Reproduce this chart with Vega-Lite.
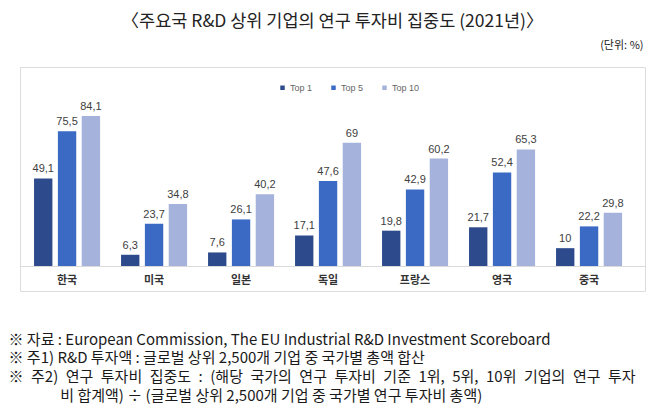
{
  "$schema": "https://vega.github.io/schema/vega-lite/v6.json",
  "width": 625,
  "height": 224,
  "autosize": {"type": "none"},
  "padding": {"left": 20, "top": 67, "right": 13, "bottom": 124},
  "background": "white",
  "title": {
    "text": "〈주요국 R&D 상위 기업의 연구 투자비 집중도 (2021년)〉",
    "anchor": "middle",
    "frame": "group",
    "font": "Noto Sans CJK KR",
    "fontSize": 17.5,
    "fontWeight": "normal",
    "color": "#222222",
    "offset": 9
  },
  "data": {
    "values": [
      {"country": "한국", "series": "Top 1", "value": 49.1, "label": "49,1"},
      {"country": "한국", "series": "Top 5", "value": 75.5, "label": "75,5"},
      {"country": "한국", "series": "Top 10", "value": 84.1, "label": "84,1"},
      {"country": "미국", "series": "Top 1", "value": 6.3, "label": "6,3"},
      {"country": "미국", "series": "Top 5", "value": 23.7, "label": "23,7"},
      {"country": "미국", "series": "Top 10", "value": 34.8, "label": "34,8"},
      {"country": "일본", "series": "Top 1", "value": 7.6, "label": "7,6"},
      {"country": "일본", "series": "Top 5", "value": 26.1, "label": "26,1"},
      {"country": "일본", "series": "Top 10", "value": 40.2, "label": "40,2"},
      {"country": "독일", "series": "Top 1", "value": 17.1, "label": "17,1"},
      {"country": "독일", "series": "Top 5", "value": 47.6, "label": "47,6"},
      {"country": "독일", "series": "Top 10", "value": 69, "label": "69"},
      {"country": "프랑스", "series": "Top 1", "value": 19.8, "label": "19,8"},
      {"country": "프랑스", "series": "Top 5", "value": 42.9, "label": "42,9"},
      {"country": "프랑스", "series": "Top 10", "value": 60.2, "label": "60,2"},
      {"country": "영국", "series": "Top 1", "value": 21.7, "label": "21,7"},
      {"country": "영국", "series": "Top 5", "value": 52.4, "label": "52,4"},
      {"country": "영국", "series": "Top 10", "value": 65.3, "label": "65,3"},
      {"country": "중국", "series": "Top 1", "value": 10, "label": "10"},
      {"country": "중국", "series": "Top 5", "value": 22.2, "label": "22,2"},
      {"country": "중국", "series": "Top 10", "value": 29.8, "label": "29,8"}
    ]
  },
  "encoding": {
    "x": {
      "field": "country",
      "type": "nominal",
      "sort": ["한국", "미국", "일본", "독일", "프랑스", "영국", "중국"],
      "scale": {"paddingInner": 0.241, "paddingOuter": 0.2125, "align": 0.38},
      "axis": {
        "orient": "bottom",
        "offset": -25,
        "domainColor": "#d9d9d9",
        "ticks": false,
        "labelPadding": 8,
        "labelAngle": 0,
        "labelFont": "Noto Sans CJK KR",
        "labelFontSize": 11,
        "labelFontWeight": "bold",
        "labelColor": "#333333",
        "title": [
          "※ 자료 : European Commission, The EU Industrial R&D Investment Scoreboard",
          "※ 주1) R&D 투자액 : 글로벌 상위 2,500개 기업 중 국가별 총액 합산",
          "※\u2002주2)\u2002연구\u2002투자비\u2002집중도\u2002:\u2002(해당\u2002국가의\u2002연구\u2002투자비\u2002기준\u20021위,\u20025위,\u200210위\u2002기업의\u2002연구\u2002투자",
          "\u200b\u3000\u3000\u3000\u00a0\u00a0비 합계액) ÷ (글로벌 상위 2,500개 기업 중 국가별 연구 투자비 총액)"
        ],
        "titleAnchor": "start",
        "titleAlign": "left",
        "titleBaseline": "top",
        "titleX": -12,
        "titleY": 66,
        "titleFont": "Noto Sans CJK KR",
        "titleFontSize": 15,
        "titleFontWeight": "normal",
        "titleColor": "#1a1a1a",
        "titleLineHeight": 18.7,
        "titleLimit": 2000
      }
    },
    "xOffset": {
      "field": "series",
      "type": "nominal",
      "sort": ["Top 1", "Top 5", "Top 10"],
      "scale": {"paddingInner": 0.23, "paddingOuter": 0}
    },
    "y": {
      "field": "value",
      "type": "quantitative",
      "scale": {"domain": [-14, 111.5], "nice": false, "zero": false}
    }
  },
  "layer": [
    {
      "mark": {"type": "bar"},
      "encoding": {
        "y2": {"datum": 0},
        "y": {
          "field": "value",
          "type": "quantitative",
          "scale": {"domain": [-14, 111.5], "nice": false, "zero": false},
          "axis": {
            "orient": "right",
            "domain": false,
            "ticks": false,
            "labels": false,
            "grid": false,
            "title": "(단위: %)",
            "titleAngle": 0,
            "titleAlign": "right",
            "titleBaseline": "middle",
            "titleX": -2,
            "titleY": -22,
            "titleFont": "Noto Sans CJK KR",
            "titleFontSize": 11,
            "titleFontWeight": "normal",
            "titleColor": "#222222"
          }
        },
        "color": {
          "field": "series",
          "type": "nominal",
          "sort": ["Top 1", "Top 5", "Top 10"],
          "scale": {"domain": ["Top 1", "Top 5", "Top 10"], "range": ["#2d4b8c", "#3a6ac4", "#a5b3dc"]},
          "legend": {
            "title": null,
            "orient": "none",
            "direction": "horizontal",
            "legendX": 258,
            "legendY": 16,
            "padding": 0,
            "symbolType": "square",
            "symbolSize": 20,
            "symbolStrokeWidth": 0,
            "labelFont": "Liberation Sans",
            "labelFontSize": 9,
            "labelColor": "#666666",
            "labelOffset": 3,
            "columnPadding": 11,
            "gridAlign": "all"
          }
        }
      }
    },
    {
      "mark": {"type": "text", "baseline": "bottom", "dy": -4, "font": "Liberation Sans", "fontSize": 11, "color": "#404040"},
      "encoding": {
        "text": {"field": "label", "type": "nominal"}
      }
    }
  ],
  "config": {
    "view": {"stroke": "#dcdcdc", "strokeWidth": 1},
    "axis": {"grid": false}
  }
}
